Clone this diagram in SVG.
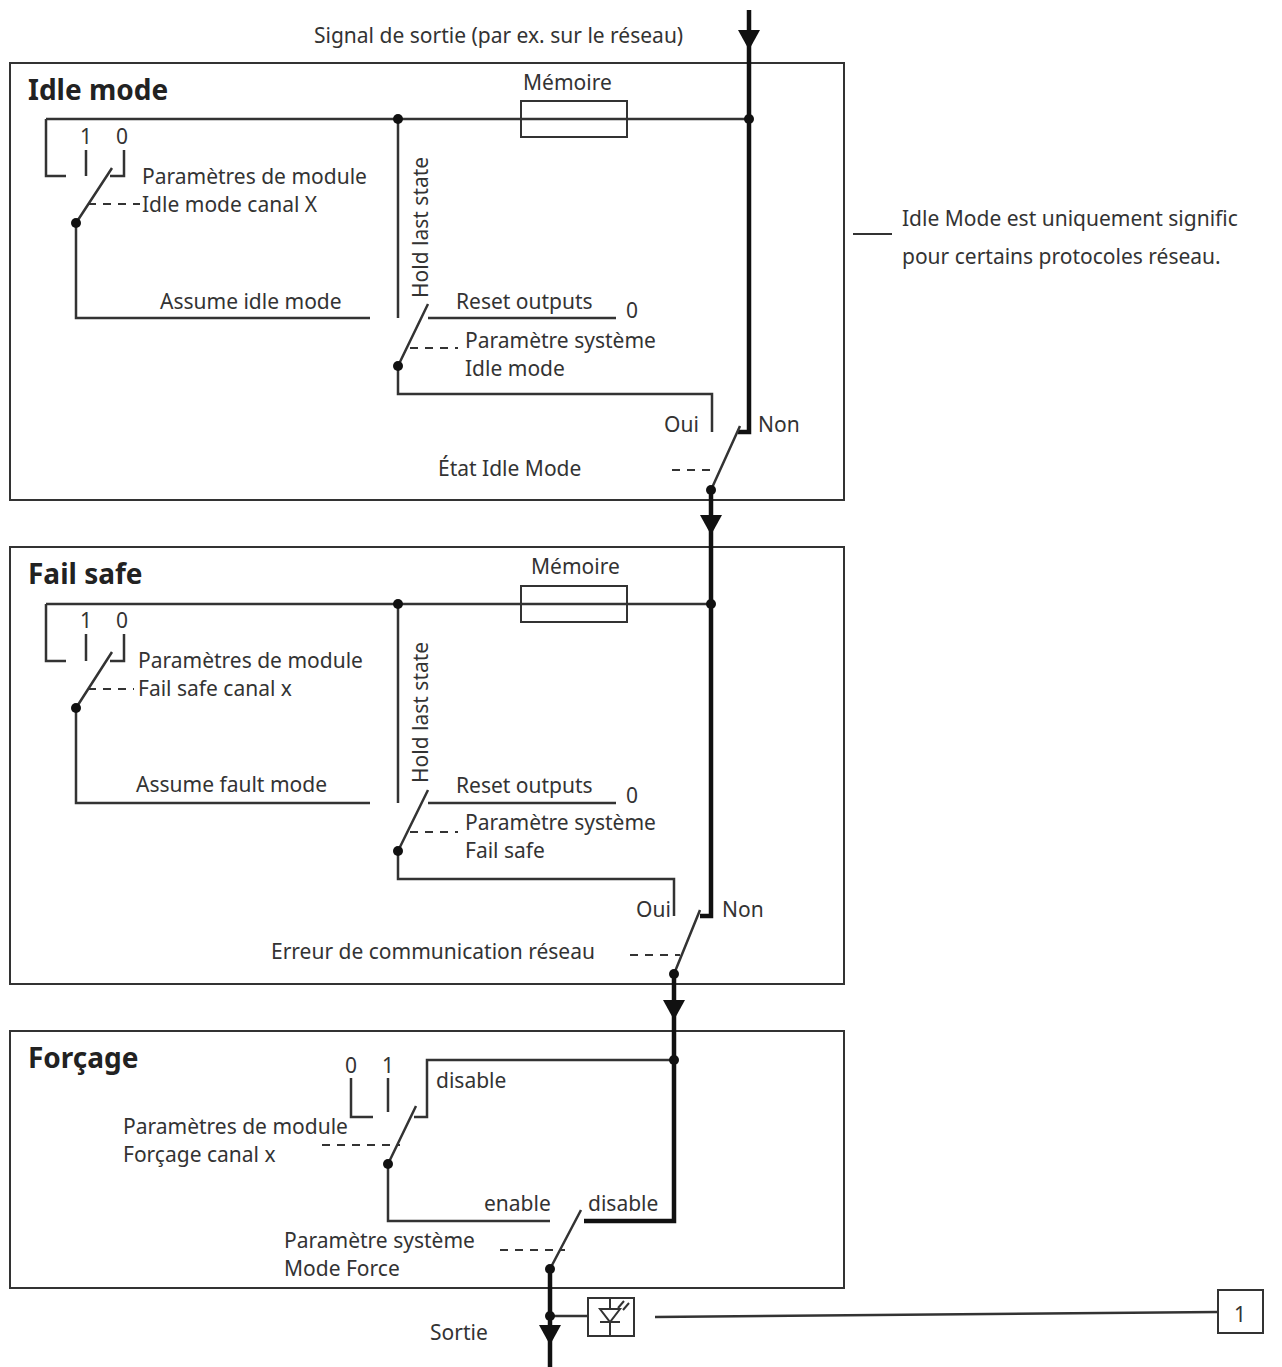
<svg xmlns="http://www.w3.org/2000/svg" width="1282" height="1367" viewBox="0 0 1282 1367">
<style>
text{font-family:"Noto Sans","Liberation Sans",sans-serif;font-size:21px;fill:#333}
.t{font-size:28px;font-weight:bold;fill:#222}
.box{fill:none;stroke:#333;stroke-width:2}
.w{fill:none;stroke:#333;stroke-width:2.5}
.k{fill:none;stroke:#111;stroke-width:4.5}
.d{fill:none;stroke:#333;stroke-width:2;stroke-dasharray:8,7}
.dot{fill:#111}
</style>
<rect width="1282" height="1367" fill="#fff"/>
<g id="idle">
<rect class="box" x="10" y="63" width="834" height="437"/>
<text class="t" x="28" y="100">Idle mode</text>
<rect class="box" x="521" y="101" width="106" height="36"/>
<text x="523" y="90">Mémoire</text>
<text x="80" y="144">1</text><text x="116" y="144">0</text>
<text x="142" y="184">Paramètres de module</text>
<text x="142" y="212">Idle mode canal X</text>
<text x="160" y="309">Assume idle mode</text>
<text transform="translate(428,298) rotate(-90)">Hold last state</text>
<text x="456" y="309">Reset outputs</text><text x="626" y="318">0</text>
<text x="465" y="348">Paramètre système</text><text x="465" y="376">Idle mode</text>
<text x="664" y="432">Oui</text><text x="758" y="432">Non</text>
<text x="438" y="476">État Idle Mode</text>
</g>
<g id="failsafe">
<rect class="box" x="10" y="547" width="834" height="437"/>
<text class="t" x="28" y="584">Fail safe</text>
<rect class="box" x="521" y="586" width="106" height="36"/>
<text x="531" y="574">Mémoire</text>
<text x="80" y="628">1</text><text x="116" y="628">0</text>
<text x="138" y="668">Paramètres de module</text>
<text x="138" y="696">Fail safe canal x</text>
<text x="136" y="792">Assume fault mode</text>
<text transform="translate(428,783) rotate(-90)">Hold last state</text>
<text x="456" y="793">Reset outputs</text><text x="626" y="803">0</text>
<text x="465" y="830">Paramètre système</text><text x="465" y="858">Fail safe</text>
<text x="636" y="917">Oui</text><text x="722" y="917">Non</text>
<text x="271" y="959">Erreur de communication réseau</text>
</g>
<g id="forcage">
<rect class="box" x="10" y="1031" width="834" height="257"/>
<text class="t" x="28" y="1068">Forçage</text>
<text x="345" y="1073">0</text><text x="382" y="1073">1</text>
<text x="436" y="1088">disable</text>
<text x="123" y="1134">Paramètres de module</text>
<text x="123" y="1162">Forçage canal x</text>
<text x="484" y="1211">enable</text><text x="588" y="1211">disable</text>
<text x="284" y="1248">Paramètre système</text><text x="284" y="1276">Mode Force</text>
</g>
<g id="top"><text x="314" y="43">Signal de sortie (par ex. sur le réseau)</text></g>
<g id="note">
<line class="box" x1="853" y1="234" x2="892" y2="234" stroke-width="1.5"/>
<text x="902" y="226">Idle Mode est uniquement signific</text>
<text x="902" y="264">pour certains protocoles réseau.</text>
</g>
<g id="sortie">
<text x="430" y="1340">Sortie</text>
<rect class="box" x="588" y="1298" width="46" height="38"/>
<path class="box" d="M600,1309h20l-10,13z M600,1322h20 M610,1322v14 M610,1298v11" stroke-width="1.5"/>
<path class="box" d="M618,1308l6,-7 M623,1310l6,-7" stroke-width="1.3"/>
<line class="w" x1="550" y1="1316" x2="588" y2="1316" stroke-width="1.5"/>
</g>
<g id="label1">
<rect class="box" x="1218" y="1290" width="45" height="43"/>
<text x="1234" y="1322">1</text>
</g>
<g id="connectors">
<path class="k" d="M749,10V432H738"/>
<path d="M738,30h22l-11,20z" fill="#111"/>
<path class="w" d="M46,119H749 M46,119V176H66 M86,150V176 M124,150V176H110 M76,223L112,168 M76,223V318H370 M398,119V318 M428,318H616 M398,366L428,304 M398,366V394H712V432 M711,490L740,426"/>
<path class="d" d="M88,204H140 M410,348H458 M672,470H715"/>
<circle class="dot" cx="398" cy="119" r="5"/><circle class="dot" cx="749" cy="119" r="5"/>
<circle class="dot" cx="76" cy="223" r="5"/><circle class="dot" cx="398" cy="366" r="5"/><circle class="dot" cx="711" cy="490" r="5"/>
<path class="k" d="M711,490V547"/>
<path d="M700,515h22l-11,20z" fill="#111"/>
<path class="k" d="M711,547V916H700"/>
<path class="w" d="M46,604H711 M46,604V661H66 M86,634V661 M124,634V661H110 M76,708L112,652 M76,708V803H370 M398,604V803 M428,803H616 M398,851L428,790 M398,851V879H674V916 M674,974L700,910"/>
<path class="d" d="M88,689H134 M410,832H458 M630,955H680"/>
<circle class="dot" cx="398" cy="604" r="5"/><circle class="dot" cx="711" cy="604" r="5"/>
<circle class="dot" cx="76" cy="708" r="5"/><circle class="dot" cx="398" cy="851" r="5"/><circle class="dot" cx="674" cy="974" r="5"/>
<path class="k" d="M674,974V1031"/>
<path d="M663,1000h22l-11,20z" fill="#111"/>
<path class="k" d="M674,1031V1221H584"/>
<path class="w" d="M674,1060H427V1117H414 M351,1078V1117H373 M388,1078V1112 M388,1164L416,1106 M388,1164V1221H550 M550,1269L581,1210"/>
<path class="d" d="M322,1145H400 M500,1250H565"/>
<circle class="dot" cx="674" cy="1060" r="5"/><circle class="dot" cx="388" cy="1164" r="5"/><circle class="dot" cx="550" cy="1269" r="5"/>
<path class="k" d="M550,1269V1367"/>
<circle class="dot" cx="550" cy="1316" r="5"/>
<path d="M539,1325h22l-11,20z" fill="#111"/>
<path class="w" stroke-width="2" d="M655,1317L1218,1312"/>
</g>
</svg>
